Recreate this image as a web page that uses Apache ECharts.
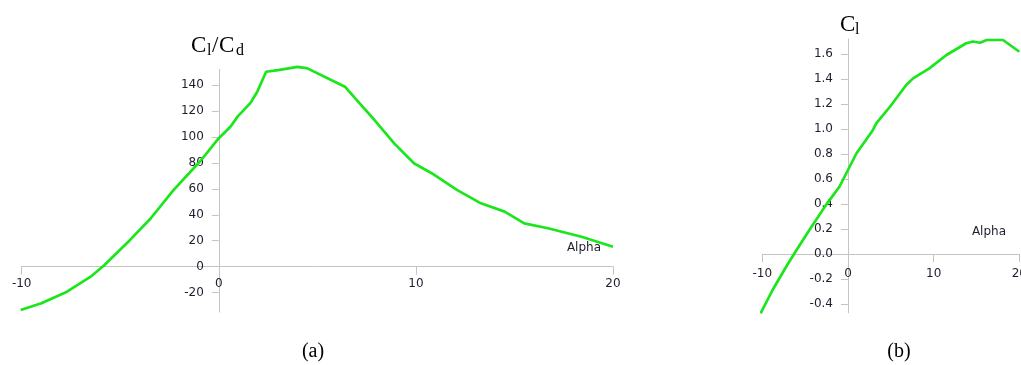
<!DOCTYPE html>
<html><head><meta charset="utf-8">
<script src="https://cdn.jsdelivr.net/npm/echarts@6/dist/echarts.min.js"></script>
<style>html,body{margin:0;padding:0;background:#fff;}#c{width:1021px;height:365px;}</style>
</head><body><div id="c"></div>
<script>
// Panel (a): Cl/Cd vs Alpha
const alphaA = [-10.05,-9.0,-7.7,-6.5,-5.8,-4.5,-3.45,-2.3,-0.9,0,0.6,0.95,1.6,1.95,2.4,3.0,4.0,4.5,5.7,6.4,7.0,7.9,8.9,9.9,10.8,12.1,13.3,14.5,15.5,16.7,18.4,20.0];
const clcdA = [-33.4,-28.2,-19.3,-7.7,1.3,20.6,37.3,59,82,99,108,115.6,126,134.8,150.2,151.5,154,152.8,143.8,138.7,128.4,113,95,79.7,72,59,48.8,42.4,33.4,29.6,23.1,15.4];
const yTicksA = [-20,0,20,40,60,80,100,120,140];
const xTicksA = [-10,0,10,20];
// Panel (b): Cl vs Alpha
const alphaB = [-10.2,-8.8,-7.2,-6.0,-4.5,-2.7,-1.0,0,1.0,2.9,3.3,4.9,6.8,7.6,9.5,11.5,13.8,14.6,15.4,16.2,18.1,20.0];
const clB = [-0.475,-0.288,-0.10,0.032,0.192,0.379,0.538,0.672,0.806,0.99,1.045,1.178,1.352,1.405,1.485,1.592,1.686,1.70,1.69,1.712,1.712,1.618];
const yTicksB = [-0.4,-0.2,0.0,0.2,0.4,0.6,0.8,1.0,1.2,1.4,1.6];
const xTicksB = [-10,0,10,20];

const chart = echarts.init(document.getElementById('c'), null, {renderer:'canvas'});
const axisColor = '#c4c4c4';
const lblColor = '#1e1e2e';
const lblFont = 'DejaVu Sans';
const green = '#1be61b';
const serif = 'Liberation Serif';

const gridA = {left:21.7, top:69.4, width:591.3, height:242.7};
const gridB = {left:762.3, top:39, width:257, height:273.75};
const xRange = [-10, 20];
const yRangeA = [-35, 152];
const yRangeB = [-0.47, 1.72];

// offsets that place each axis on the other's zero
const xOff = (g, yr) => -((0 - yr[0]) / (yr[1] - yr[0])) * g.height;
const yOff = (g) => -((0 - xRange[0]) / (xRange[1] - xRange[0])) * g.width;

function xAxisCfg(gi, ticks, margin, off){
  return {type:'value', gridIndex:gi, min:xRange[0], max:xRange[1], position:'bottom', offset:off,
    axisLine:{show:true, onZero:false, lineStyle:{color:axisColor, width:1}},
    axisTick:{show:true, inside:false, length:8, lineStyle:{color:axisColor}, customValues:ticks},
    axisLabel:{color:lblColor, fontFamily:lblFont, fontSize:12, margin:margin, customValues:ticks},
    splitLine:{show:false}};
}
function yAxisCfg(gi, rng, ticks, margin, fmt, off){
  return {type:'value', gridIndex:gi, min:rng[0], max:rng[1], position:'left', offset:off,
    axisLine:{show:true, onZero:false, lineStyle:{color:axisColor, width:1}},
    axisTick:{show:true, length:7, lineStyle:{color:axisColor}, customValues:ticks},
    axisLabel:{color:lblColor, fontFamily:lblFont, fontSize:12, margin:margin, customValues:ticks, formatter:fmt},
    splitLine:{show:false}};
}
const pairs = (xs, ys) => xs.map((x,i)=>[x, ys[i]]);

function txt(x, y, s, size, family, align){
  return {type:'text', x:x, y:y, style:{text:s, fontSize:size, fontFamily:family, fill:'#000', align:align||'left', verticalAlign:'middle'}};
}

chart.setOption({
  animation:false,
  grid:[
    Object.assign({outerBoundsMode:'none', containLabel:false}, gridA),
    Object.assign({outerBoundsMode:'none', containLabel:false}, gridB)
  ],
  xAxis:[xAxisCfg(0, xTicksA, 11, xOff(gridA, yRangeA)), xAxisCfg(1, xTicksB, 14, xOff(gridB, yRangeB))],
  yAxis:[
    yAxisCfg(0, yRangeA, yTicksA, 15, v=>String(v), yOff(gridA)),
    yAxisCfg(1, yRangeB, yTicksB, 15, v=>v.toFixed(1), yOff(gridB))
  ],
  series:[
    {type:'line', xAxisIndex:0, yAxisIndex:0, data:pairs(alphaA, clcdA), showSymbol:false, symbol:'none', clip:false,
      lineStyle:{color:green, width:2.7}},
    {type:'line', xAxisIndex:1, yAxisIndex:1, data:pairs(alphaB, clB), showSymbol:false, symbol:'none', clip:false,
      lineStyle:{color:green, width:2.7}}
  ],
  graphic:[
    txt(191, 46, 'C', 23, serif),
    txt(207, 51, 'l', 16, serif),
    txt(212, 46, '/', 23, serif),
    txt(219, 46, 'C', 23, serif),
    txt(236, 51, 'd', 16, serif),
    txt(840, 25, 'C', 23, serif),
    txt(855, 29.5, 'l', 16, serif),
    {type:'text', x:601, y:248, style:{text:'Alpha', fontSize:12, fontFamily:lblFont, fill:lblColor, align:'right', verticalAlign:'middle'}},
    {type:'text', x:1006, y:232, style:{text:'Alpha', fontSize:12, fontFamily:lblFont, fill:lblColor, align:'right', verticalAlign:'middle'}},
    txt(313, 352, '(a)', 20, serif, 'center'),
    txt(899, 352, '(b)', 20, serif, 'center')
  ]
});
</script></body></html>
